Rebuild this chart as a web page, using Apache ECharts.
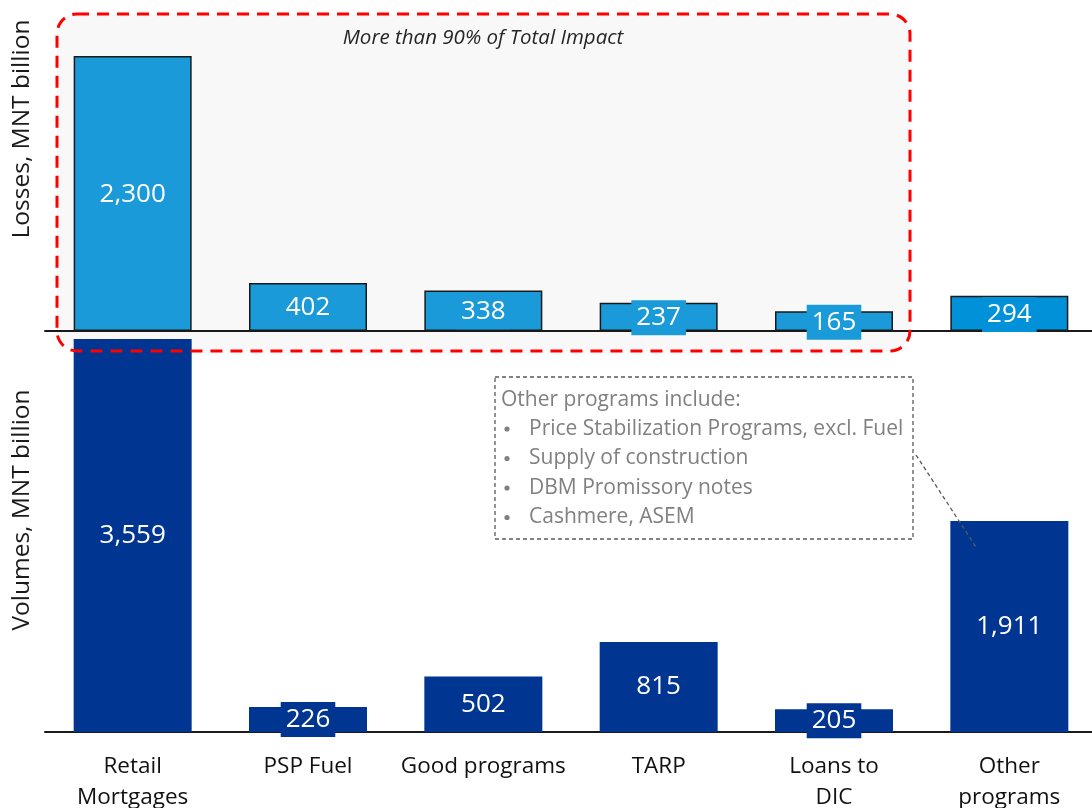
<!DOCTYPE html>
<html>
<head>
<meta charset="utf-8">
<script src="https://cdn.jsdelivr.net/npm/echarts@6/dist/echarts.min.js"></script>
<style>
  html, body { margin: 0; padding: 0; background: #ffffff; }
  #chart { width: 1092px; height: 808px; }
</style>
</head>
<body>
<div id="chart"></div>
<script>
// Programs, losses and volumes (MNT billion)
const categories = ['Retail\nMortgages', 'PSP Fuel', 'Good programs', 'TARP', 'Loans to\nDIC', 'Other\nprograms'];
const losses = [2300, 402, 338, 237, 165, 294];
const volumes = [3559, 226, 502, 815, 205, 1911];
const otherNotes = [
  'Price Stabilization Programs, excl. Fuel',
  'Supply of construction',
  'DBM Promissory notes',
  'Cashmere, ASEM'
];

const FONT = '"Open Sans", "Noto Sans", sans-serif';
const LOSS_COLOR = '#1b9ad9';
const LOSS_OTHER_COLOR = '#0091d9';
const VOLUME_COLOR = '#003591';

const fmt = v => v.toLocaleString('en-US');

function barLabel(bg, offsetY) {
  return {
    show: true,
    position: 'inside',
    offset: [0, offsetY],
    color: '#ffffff',
    fontFamily: FONT,
    fontSize: 26,
    lineHeight: 27,
    padding: [4, 5],
    backgroundColor: bg,
    formatter: p => fmt(p.value)
  };
}

const lossData = losses.map((v, i) => {
  const c = i === losses.length - 1 ? LOSS_OTHER_COLOR : LOSS_COLOR;
  return { value: v, itemStyle: { color: c }, label: barLabel(c, 1) };
});
const volumeData = volumes.map(v => ({ value: v, label: barLabel(VOLUME_COLOR, 0) }));

const chart = echarts.init(document.getElementById('chart'), null, { renderer: 'canvas' });

const graphics = [
  // shaded area around the leading programs
  { type: 'rect', z: -10, silent: true,
    shape: { x: 57, y: 14, width: 853, height: 337, r: 20 },
    style: { fill: '#f8f8f8', stroke: null } },
  { type: 'rect', z: 100, silent: true,
    shape: { x: 57, y: 14, width: 853, height: 337, r: 20 },
    style: { fill: null, stroke: '#ff0000', lineWidth: 3, lineDash: [12, 8] } },
  { type: 'text', z: 100, x: 483, y: 38,
    style: { text: 'More than 90% of Total Impact', font: 'italic 20.5px ' + FONT,
             fill: '#262626', align: 'center', verticalAlign: 'middle' } },
  // axis titles
  { type: 'text', z: 100, x: 22, y: 129, rotation: Math.PI / 2,
    style: { text: 'Losses, MNT billion', font: '24.5px ' + FONT, fill: '#1a1a1a',
             align: 'center', verticalAlign: 'middle' } },
  { type: 'text', z: 100, x: 22, y: 510, rotation: Math.PI / 2,
    style: { text: 'Volumes, MNT billion', font: '24.5px ' + FONT, fill: '#1a1a1a',
             align: 'center', verticalAlign: 'middle' } },
  // callout describing "Other programs"
  { type: 'rect', z: 100, silent: true,
    shape: { x: 495, y: 377, width: 418, height: 162 },
    style: { fill: '#ffffff', stroke: '#595959', lineWidth: 1.3, lineDash: [4, 3] } },
  { type: 'line', z: 100, silent: true,
    shape: { x1: 916, y1: 455, x2: 976, y2: 547 },
    style: { stroke: '#595959', lineWidth: 1.3, lineDash: [4, 3] } },
  { type: 'text', z: 101, x: 501, y: 400,
    style: { text: 'Other programs include:', font: '21px ' + FONT, fill: '#808080',
             align: 'left', verticalAlign: 'middle' } }
];
otherNotes.forEach((t, i) => {
  const y = 429 + i * 29.5;
  graphics.push({ type: 'circle', z: 101, silent: true,
    shape: { cx: 507, cy: y, r: 2.6 }, style: { fill: '#808080' } });
  graphics.push({ type: 'text', z: 101, x: 529, y: y,
    style: { text: t, font: '21px ' + FONT, fill: '#808080', align: 'left', verticalAlign: 'middle' } });
});

chart.setOption({
  animation: false,
  backgroundColor: '#ffffff',
  grid: [
    { left: 45, width: 1052, top: 32, height: 299, outerBoundsMode: 'none' },
    { left: 45, width: 1052, top: 334.5, height: 397.5, outerBoundsMode: 'none' }
  ],
  xAxis: [
    { type: 'category', gridIndex: 0, data: categories,
      axisLine: { show: true, lineStyle: { color: '#1a1a1a', width: 2 } },
      axisTick: { show: false }, axisLabel: { show: false } },
    { type: 'category', gridIndex: 1, data: categories,
      axisLine: { show: true, lineStyle: { color: '#1a1a1a', width: 2 } },
      axisTick: { show: false },
      axisLabel: { show: true, interval: 0, margin: 19, color: '#111111',
                   fontFamily: FONT, fontSize: 22.5, lineHeight: 31 } }
  ],
  yAxis: [
    { type: 'value', gridIndex: 0, min: 0, max: 2500, show: false, splitLine: { show: false } },
    { type: 'value', gridIndex: 1, min: 0, max: 3600, show: false, splitLine: { show: false } }
  ],
  series: [
    { name: 'Losses', type: 'bar', xAxisIndex: 0, yAxisIndex: 0, barWidth: 118,
      itemStyle: { borderColor: '#1a1a1a', borderWidth: 1.5 },
      data: lossData },
    { name: 'Volumes', type: 'bar', xAxisIndex: 1, yAxisIndex: 1, barWidth: 118,
      itemStyle: { color: VOLUME_COLOR },
      data: volumeData }
  ],
  graphic: graphics
});
</script>
</body>
</html>
